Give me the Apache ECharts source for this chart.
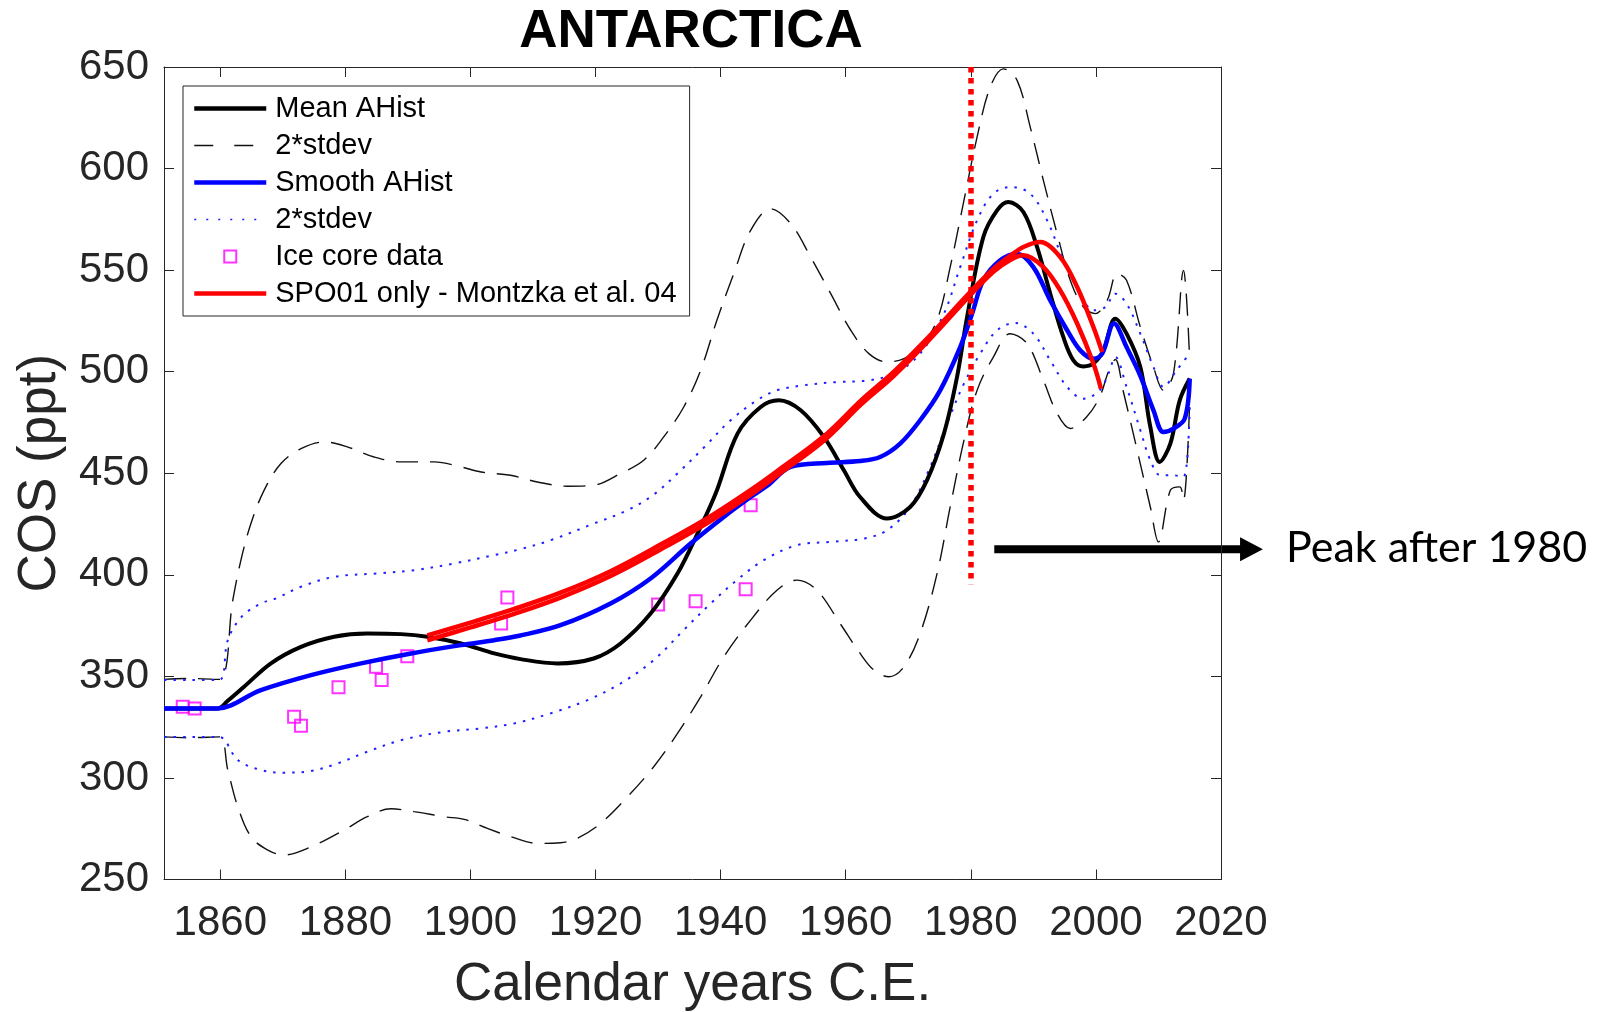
<!DOCTYPE html>
<html><head><meta charset="utf-8">
<script src="https://cdn.jsdelivr.net/npm/echarts@6/dist/echarts.min.js"></script>
<style>html,body{margin:0;padding:0;background:#fff}#c{width:1609px;height:1012px}</style>
</head><body><div id="c"></div>
<script>
// ---------------- data ----------------
const xTickYears = [1860,1880,1900,1920,1940,1960,1980,2000,2020];

const meanYears = [1851,1855,1859.6,1861.2,1863.8,1868.1,1872.9,1878.2,1883.5,1888.9,1893.1,1898.5,1903.8,1908,1913.9,1919.7,1924.0,1928.8,1933.1,1936.3,1939.2,1942.7,1946.4,1949.3,1952.8,1956.5,1959.7,1962.3,1966.6,1970.3,1973.0,1975.7,1977.8,1979.4,1982.0,1984.2,1986.0,1988.4,1990.6,1992.7,1994.8,1996.4,1998.0,1999.6,2001.2,2003.1,2004.9,2007.1,2008.7,2010.2,2011.9,2013.4,2015.0];
const meanVals  = [334.2,334.2,334.2,338,344.9,356.4,364.5,369.5,371.1,370.8,369.5,366.2,361.3,358.5,356.4,358.8,366.2,380.9,400.6,420.3,440,469.5,482.6,485.9,481.0,467.9,451.5,438.3,427.7,433.4,446.6,469.5,497.4,526.9,566.3,579.4,583.5,578.6,561.3,538.4,517.0,505.6,502.6,504.0,510.5,526.1,518.7,502.3,472.8,455.6,464.6,485.9,496.6];

const meanUpYears = [1851,1855,1859.8,1862.0,1863.3,1864.9,1867.0,1869.7,1872.9,1876.6,1880.4,1884.6,1888.9,1894.2,1898.5,1901.7,1906.4,1910.7,1915.5,1919.7,1924.0,1927.7,1930.9,1934.1,1936.8,1939.4,1942.1,1944.8,1948.0,1951.2,1954.4,1957.6,1960.8,1963.7,1966.6,1969.3,1971.9,1974.6,1976.7,1978.9,1981.0,1983.1,1985.2,1987.4,1989.5,1991.6,1993.8,1995.9,1998.0,1999.9,2001.8,2003.4,2004.9,2007.1,2009.2,2010.8,2012.4,2014.0,2015.0];
const meanUpVals  = [348.5,349,348.5,387.5,407.2,425.3,441.6,454.8,462.1,465.4,462.9,458.0,455.6,455.6,453.1,450.6,449.0,445.7,443.6,444.1,449.9,456.4,467.9,482.6,500.7,525.3,548.3,569.6,580.2,572.9,556.4,538.4,520.4,508.9,504.8,506.4,512.1,525.3,551.5,584.3,615.5,640.1,649.1,643.4,620.4,594.2,567.9,545.0,531.8,528.6,535.1,548.3,545.0,522.0,502.3,490.8,499.0,549.9,505];

const meanLoYears = [1851,1855,1859.8,1861.2,1862.8,1864.9,1867.6,1870.2,1874.5,1879.8,1883.5,1887.3,1891.0,1895.8,1899.0,1902.7,1906.4,1910.7,1914.4,1917.1,1920.8,1925.1,1929.3,1933.1,1936.8,1940.5,1944.8,1949.0,1952.2,1955.4,1959.1,1962.3,1964.5,1966.9,1969.3,1971.9,1974.6,1976.7,1978.9,1981.0,1983.6,1986.3,1989.0,1991.6,1993.8,1995.9,1998.5,2000.6,2002.0,2003.1,2004.4,2006.6,2008.7,2010.0,2011.9,2013.4,2014.0,2015.0];
const meanLoVals  = [320.2,319.8,320.2,303.9,285.8,271.1,264.5,262.1,266.1,274.4,280.9,284.8,283.4,280.9,279.6,275.2,271.1,267.8,268.1,270.3,277.6,290.7,305.5,321.9,339.9,359.6,377.7,392.4,397.4,392.4,376.0,361.3,353.1,349.8,354.7,371.1,400.6,433.4,466.2,490.8,507.2,518.7,513.8,495.8,479.4,472.0,477.7,487.5,500,506,490,461.3,433.4,416.2,441.6,443.3,436.7,486];

const smoothYears = [1851,1855,1859.5,1866.5,1874.5,1882.5,1890.5,1898.5,1903.8,1907.8,1914.4,1922.4,1928.8,1935.2,1940.5,1944.8,1947.5,1951.2,1957.0,1962.3,1965.5,1968.7,1971.9,1975.1,1978.3,1980.2,1982.0,1984.7,1987.4,1990.0,1992.7,1995.4,1997.5,1999.6,2001.0,2002.9,2004.9,2007.1,2009.2,2010.8,2012.4,2014.2,2015.0];
const smoothVals  = [334.2,334.2,334.2,343.2,350.6,356.4,361.3,365.4,367.8,370.0,375.2,385.9,398.2,415.4,428.5,438.3,444,453.1,455.1,456.0,458.0,464.6,476.1,490.8,512.1,528.5,545.0,554.8,558.1,551.5,535.1,520.4,510.5,506.4,508.9,523.7,512.1,498,481.0,470.3,472.0,476.9,496.6];

const smUpYears = [1851,1855,1859.8,1861.2,1863.4,1866.5,1868.9,1872.9,1878.2,1885.1,1891.0,1897.4,1903.8,1907.8,1912.8,1919.7,1925.1,1929.3,1933.1,1937.4,1941.6,1945.8,1949.0,1953.3,1958.6,1963.0,1967.7,1971.9,1975.7,1978.3,1981.0,1983.6,1986.5,1989.5,1992.2,1994.8,1997.5,1999.6,2001.5,2003.1,2004.9,2007.1,2009.2,2010.8,2012.9,2015.0];
const smUpVals  = [348.2,348.2,348.2,367.8,379.3,385.9,388.4,394.1,399.0,400.7,402.3,405.6,409.7,412.5,417.0,425.2,431.8,439.5,449.9,462.9,476.1,485.9,490.8,493.3,494.9,495.5,499.0,508.9,528.6,551.5,574.5,587.6,590.9,587.6,574.5,554.8,538.4,530.2,531.8,538.4,533.5,518.7,502.3,492.5,500.7,509];

const smLoYears = [1851,1855,1859.8,1862.8,1866.5,1870.2,1874.5,1878.8,1883.5,1888.9,1895.8,1901.7,1907.1,1912.8,1918.7,1924.0,1929.3,1934.1,1938.4,1942.6,1946.9,1952.2,1957.5,1963.0,1966.6,1970.3,1973.5,1976.2,1978.9,1981.5,1984.2,1987.1,1990.0,1992.7,1995.4,1998.0,2000.6,2002.0,2003.1,2004.9,2007.1,2008.7,2010.3,2012.4,2014.0,2015.0];
const smLoVals  = [320.2,320.2,320.2,308.8,303.9,302.6,303.4,307.2,312.9,318.6,322.7,324.4,326.9,331.8,338.3,346.5,358.0,372.8,385.9,397.4,407.2,414.6,416.2,417.9,421.9,433.4,453.1,474.5,494.1,508.9,520.4,524.0,518.7,505.6,492.5,486.7,490.8,499.0,507.2,492.5,471.2,456.4,449.0,449.0,448.2,484];

const iceYears = [1854.0,1855.9,1871.8,1872.9,1878.9,1884.9,1885.8,1889.9,1904.9,1905.9,1930.0,1936.0,1944.0,1944.8];
const iceVals  = [335.0,334.2,330.1,325.7,344.6,354.7,348.2,359.9,376.0,388.8,385.4,387.0,392.9,434.3];

const spoAYears = [1893.1,1900,1907,1914.4,1922.4,1930.4,1938.4,1945,1949,1956.5,1962.5,1967.7,1973.0,1979.9,1983.6,1986.5,1988.5,1991.1,1994.3,1997.0,1999.6,2001.0];
const spoAVals  = [370.2,376.5,383.2,391.2,401.8,414.9,428.9,442.2,451.0,468.2,486.0,500.0,516.3,539.2,550.6,557.5,561.5,563.8,556.4,541.7,522.0,509.7];
const spoBYears = [1893.1,1900,1907,1914.4,1922.4,1930.4,1938.4,1945,1949,1956.5,1962.5,1967.7,1973.0,1979.9,1983.6,1986.3,1988.4,1991.6,1994.3,1997.0,1999.6,2000.8];
const spoBVals  = [367.8,374.1,380.8,388.8,399.4,412.5,426.5,439.8,448.8,466.0,484.0,498.0,514.5,537.6,549.2,555.0,557.3,551.5,540.0,523.7,504.0,491.7];

const markYear = 1980, markTop = 650, markBottom = 395.4;
const noteText = 'Peak after 1980';
const arrowVal = 412.6, arrowFromYear = 1983.75, arrowHeadYear = 2023.05, arrowTipYear = 2026.7;
const noteYear = 2030.4, noteVal = 413.3;

// ---------------- chart ----------------
const FONT = "'Liberation Sans', Arial, Helvetica, sans-serif";
const AX = '#262626';
const zip = (xs, ys) => xs.map((x, i) => [x, ys[i]]);
const chart = echarts.init(document.getElementById('c'), null, {renderer: 'canvas'});

const dashStyle = {color: '#111', width: 1.4, type: [22, 12]};
const dotStyle = {color: '#1f1fff', width: 2, type: [2.5, 7]};
const squareIcon = 'path://M0,0 L10,0 L10,10 L0,10 Z';

const noSym = {opacity: 0, borderWidth: 0};
chart.setOption({
  animation: false,
  backgroundColor: '#fff',
  title: {
    text: 'ANTARCTICA', left: 691, top: 6, textAlign: 'center', padding: 0,
    textStyle: {fontFamily: FONT, fontSize: 53, fontWeight: 'bold', color: '#000'}
  },
  grid: {left: 164, right: 388, top: 67, bottom: 132.5, containLabel: false, outerBoundsMode: 'none'},
  legend: {
    orient: 'vertical', left: 183, top: 86, padding: [8, 13, 8, 9],
    itemGap: 8, itemWidth: 72, itemHeight: 12, symbolKeepAspect: true,
    borderColor: AX, borderWidth: 1, backgroundColor: '#fff', borderRadius: 0,
    selectedMode: false,
    textStyle: {fontFamily: FONT, fontSize: 29, color: '#000', lineHeight: 29, padding: [0, 0, 0, 4]},
    formatter: n => n.trim(),
    data: [
      {name: 'Mean AHist', itemStyle: noSym, lineStyle: {width: 4.5, color: '#000'}},
      {name: '2*stdev', itemStyle: noSym, lineStyle: {width: 1.4, color: '#111', type: [19, 21]}},
      {name: 'Smooth AHist', itemStyle: noSym, lineStyle: {width: 4.5, color: '#0000ff'}},
      {name: '2*stdev ', itemStyle: noSym, lineStyle: {width: 1.6, color: '#1f1fff', type: [2, 10]}},
      {name: 'Ice core data', icon: squareIcon, itemStyle: {color: 'rgba(255,255,255,0)', borderColor: '#ff00ff', borderWidth: 2}},
      {name: 'SPO01 only - Montzka et al. 04', itemStyle: noSym, lineStyle: {width: 4.5, color: '#ff0000'}}
    ]
  },
  xAxis: [{
    type: 'value', min: 1851, max: 2020, position: 'bottom',
    axisLine: {show: true, onZero: false, lineStyle: {color: AX, width: 1}},
    axisTick: {show: true, inside: true, length: 10, customValues: xTickYears, lineStyle: {color: AX}},
    axisLabel: {show: true, customValues: xTickYears, formatter: v => String(v), fontFamily: FONT, fontSize: 42, color: AX, margin: 23},
    splitLine: {show: false},
    name: 'Calendar years C.E.', nameLocation: 'middle', nameGap: 79,
    nameTextStyle: {fontFamily: FONT, fontSize: 53, color: AX}
  }, {
    type: 'value', min: 1851, max: 2020, position: 'top',
    axisLine: {show: true, onZero: false, lineStyle: {color: AX, width: 1}},
    axisTick: {show: true, inside: true, length: 10, customValues: xTickYears, lineStyle: {color: AX}},
    axisLabel: {show: false}, splitLine: {show: false}
  }],
  yAxis: [{
    type: 'value', min: 250, max: 650, interval: 50, position: 'left',
    axisLine: {show: true, onZero: false, lineStyle: {color: AX, width: 1}},
    axisTick: {show: true, inside: true, length: 10, lineStyle: {color: AX}},
    axisLabel: {fontFamily: FONT, fontSize: 42, color: AX, margin: 15, padding: [12, 0, 0, 0]},
    splitLine: {show: false},
    name: 'COS (ppt)', nameLocation: 'middle', nameGap: 97, nameRotate: 90,
    nameTextStyle: {fontFamily: FONT, fontSize: 53, color: AX}
  }, {
    type: 'value', min: 250, max: 650, interval: 50, position: 'right',
    axisLine: {show: true, onZero: false, lineStyle: {color: AX, width: 1}},
    axisTick: {show: true, inside: true, length: 10, lineStyle: {color: AX}},
    axisLabel: {show: false}, splitLine: {show: false}
  }],
  series: [
    {name: '2*stdev', type: 'line', data: zip(meanUpYears, meanUpVals), symbol: 'none', smooth: 0.35, lineStyle: dashStyle, itemStyle: {color: '#111'}, silent: true},
    {name: '2*stdev', type: 'line', data: zip(meanLoYears, meanLoVals), symbol: 'none', smooth: 0.35, lineStyle: dashStyle, itemStyle: {color: '#111'}, silent: true},
    {name: '2*stdev ', type: 'line', data: zip(smUpYears, smUpVals), symbol: 'none', smooth: 0.35, lineStyle: dotStyle, itemStyle: {color: '#1f1fff'}, silent: true},
    {name: '2*stdev ', type: 'line', data: zip(smLoYears, smLoVals), symbol: 'none', smooth: 0.35, lineStyle: dotStyle, itemStyle: {color: '#1f1fff'}, silent: true},
    {name: 'Mean AHist', type: 'line', data: zip(meanYears, meanVals), symbol: 'none', smooth: 0.35, lineStyle: {color: '#000', width: 4}, itemStyle: {color: '#000'}, silent: true},
    {name: 'Smooth AHist', type: 'line', data: zip(smoothYears, smoothVals), symbol: 'none', smooth: 0.35, lineStyle: {color: '#0000ff', width: 4.5}, itemStyle: {color: '#0000ff'}, silent: true},
    {name: 'Ice core data', type: 'scatter', data: zip(iceYears, iceVals), symbol: 'rect', symbolSize: 12,
      itemStyle: {color: 'rgba(255,255,255,0)', borderColor: '#ff00ff', borderWidth: 2}, silent: true},
    {name: 'SPO01 only - Montzka et al. 04', type: 'line', data: zip(spoAYears, spoAVals), symbol: 'none', smooth: 0.35, lineStyle: {color: '#ff0000', width: 4.5}, itemStyle: {color: '#ff0000'}, silent: true},
    {name: 'SPO01 only - Montzka et al. 04', type: 'line', data: zip(spoBYears, spoBVals), symbol: 'none', smooth: 0.35, lineStyle: {color: '#ff0000', width: 4.5}, itemStyle: {color: '#ff0000'}, silent: true,
      markLine: {silent: true, symbol: 'none', label: {show: false}, animation: false,
        lineStyle: {color: '#ff0000', width: 5.5, type: [5.5, 5.5]},
        data: [[{coord: [markYear, markTop]}, {coord: [markYear, markBottom]}]]}}
  ]
});

const toPx = (x, y) => chart.convertToPixel({xAxisIndex: 0, yAxisIndex: 0}, [x, y]);
const a0 = toPx(arrowFromYear, arrowVal), a1 = toPx(arrowHeadYear, arrowVal), a2 = toPx(arrowTipYear, arrowVal);
const t0 = toPx(noteYear, noteVal);
chart.setOption({
  graphic: [
    {type: 'line', silent: true, shape: {x1: a0[0], y1: a0[1], x2: a1[0] + 1, y2: a1[1]}, style: {stroke: '#000', lineWidth: 8}},
    {type: 'polygon', silent: true, shape: {points: [[a1[0], a1[1] - 12], [a2[0], a2[1]], [a1[0], a1[1] + 12]]}, style: {fill: '#000'}},
    {type: 'text', silent: true, style: {text: noteText, x: t0[0], y: t0[1], fontSize: 43, fontFamily: "Lato, 'Open Sans', sans-serif", fill: '#000', verticalAlign: 'middle', align: 'left'}}
  ]
});
</script>
</body></html>
